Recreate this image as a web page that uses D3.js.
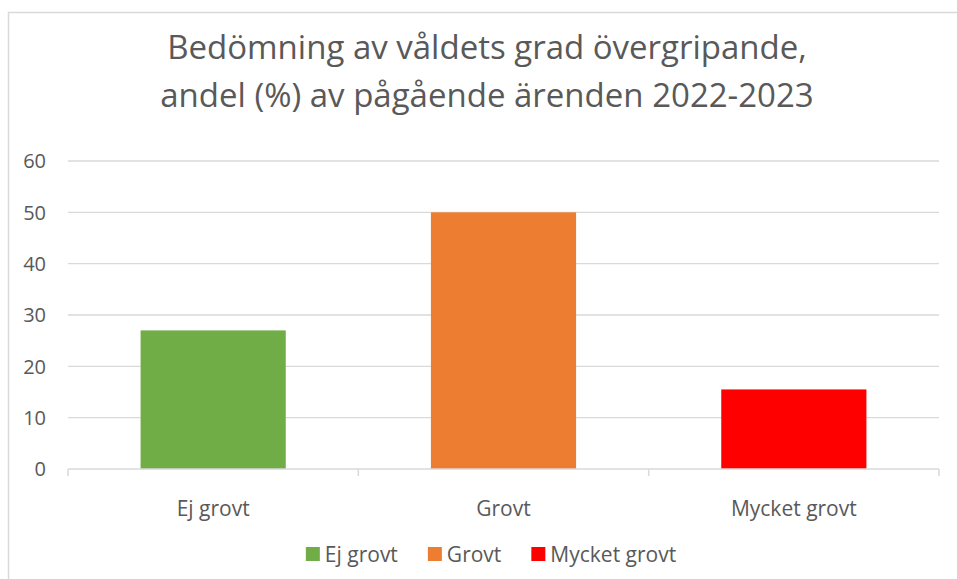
<!DOCTYPE html>
<html>
<head>
<meta charset="utf-8">
<script src="https://d3js.org/d3.v7.min.js"></script>
<style>
  body { margin: 0; background: #fff; }
  svg text { font-family: "Open Sans", sans-serif; fill: #595959; }
</style>
</head>
<body>
<div id="chart"></div>
<script>
// data
var categories = ["Ej grovt", "Grovt", "Mycket grovt"];
var values = [27, 50, 15.5];
var colors = ["#70ad47", "#ed7d31", "#ff0000"];
var yTicks = [0, 10, 20, 30, 40, 50, 60];
var titleLines = ["Bedömning av våldets grad övergripande,", "andel (%) av pågående ärenden 2022-2023"];

var svgWidth = 957, svgHeight = 579;
var margin = { top: 161, right: 18, bottom: 110, left: 68 };
var width = svgWidth - margin.left - margin.right;
var height = svgHeight - margin.top - margin.bottom;

var svg = d3.select("#chart").append("svg")
    .attr("width", svgWidth)
    .attr("height", svgHeight);

// outer frame
svg.append("rect")
    .attr("x", 8.5).attr("y", 12.5)
    .attr("width", 980).attr("height", 600)
    .attr("fill", "none").attr("stroke", "#d9d9d9").attr("stroke-width", 1.5);

// title
svg.append("g").selectAll("text")
    .data(titleLines)
    .enter().append("text")
    .attr("x", 487)
    .attr("y", function(d, i) { return 59 + i * 48; })
    .attr("text-anchor", "middle")
    .style("font-size", "33px")
    .text(function(d) { return d; });

var g = svg.append("g").attr("transform", "translate(" + margin.left + "," + margin.top + ")");

var x = d3.scaleBand().domain(categories).range([0, width]).paddingInner(0.5).paddingOuter(0.25);
var y = d3.scaleLinear().domain([0, 60]).range([height, 0]);

// gridlines
g.append("g").selectAll("line")
    .data(yTicks.filter(function(d) { return d > 0; }))
    .enter().append("line")
    .attr("x1", 0).attr("x2", width)
    .attr("y1", function(d) { return y(d); }).attr("y2", function(d) { return y(d); })
    .attr("stroke", "#d9d9d9").attr("stroke-width", 1.3);

// y labels
g.append("g").selectAll("text")
    .data(yTicks)
    .enter().append("text")
    .attr("x", -22)
    .attr("y", function(d) { return y(d); })
    .attr("dy", "0.36em")
    .attr("text-anchor", "end")
    .style("font-size", "20px")
    .text(function(d) { return d; });

// bars
g.append("g").selectAll("rect")
    .data(values)
    .enter().append("rect")
    .attr("x", function(d, i) { return x(categories[i]); })
    .attr("y", function(d) { return y(d); })
    .attr("width", x.bandwidth())
    .attr("height", function(d) { return height - y(d); })
    .attr("fill", function(d, i) { return colors[i]; });

// x axis
var xAxis = g.append("g").attr("transform", "translate(0," + height + ")");
xAxis.append("line")
    .attr("x1", 0).attr("x2", width)
    .attr("stroke", "#d9d9d9").attr("stroke-width", 1.5);
var step = x.step();
xAxis.selectAll("line.tick")
    .data(d3.range(categories.length + 1))
    .enter().append("line")
    .attr("class", "tick")
    .attr("x1", function(d) { return d * step; }).attr("x2", function(d) { return d * step; })
    .attr("y1", 0).attr("y2", 7)
    .attr("stroke", "#d9d9d9").attr("stroke-width", 1.5);
xAxis.selectAll("text")
    .data(categories)
    .enter().append("text")
    .attr("x", function(d) { return x(d) + x.bandwidth() / 2; })
    .attr("y", 39)
    .attr("dy", "0.36em")
    .attr("text-anchor", "middle")
    .style("font-size", "21px")
    .text(function(d) { return d; });

// legend
var legend = svg.append("g");
var items = legend.selectAll("g")
    .data(categories)
    .enter().append("g");
items.append("rect")
    .attr("width", 14).attr("height", 14)
    .attr("y", -7)
    .attr("fill", function(d, i) { return colors[i]; });
items.append("text")
    .attr("x", 19)
    .attr("dy", "0.36em")
    .style("font-size", "21px")
    .text(function(d) { return d; });
var offset = 0;
items.each(function() {
    d3.select(this).attr("transform", "translate(" + offset + ",0)");
    offset += this.getBBox().width + 30;
});
var legendWidth = offset - 30;
legend.attr("transform", "translate(" + (491 - legendWidth / 2) + ",554)");
</script>
</body>
</html>
